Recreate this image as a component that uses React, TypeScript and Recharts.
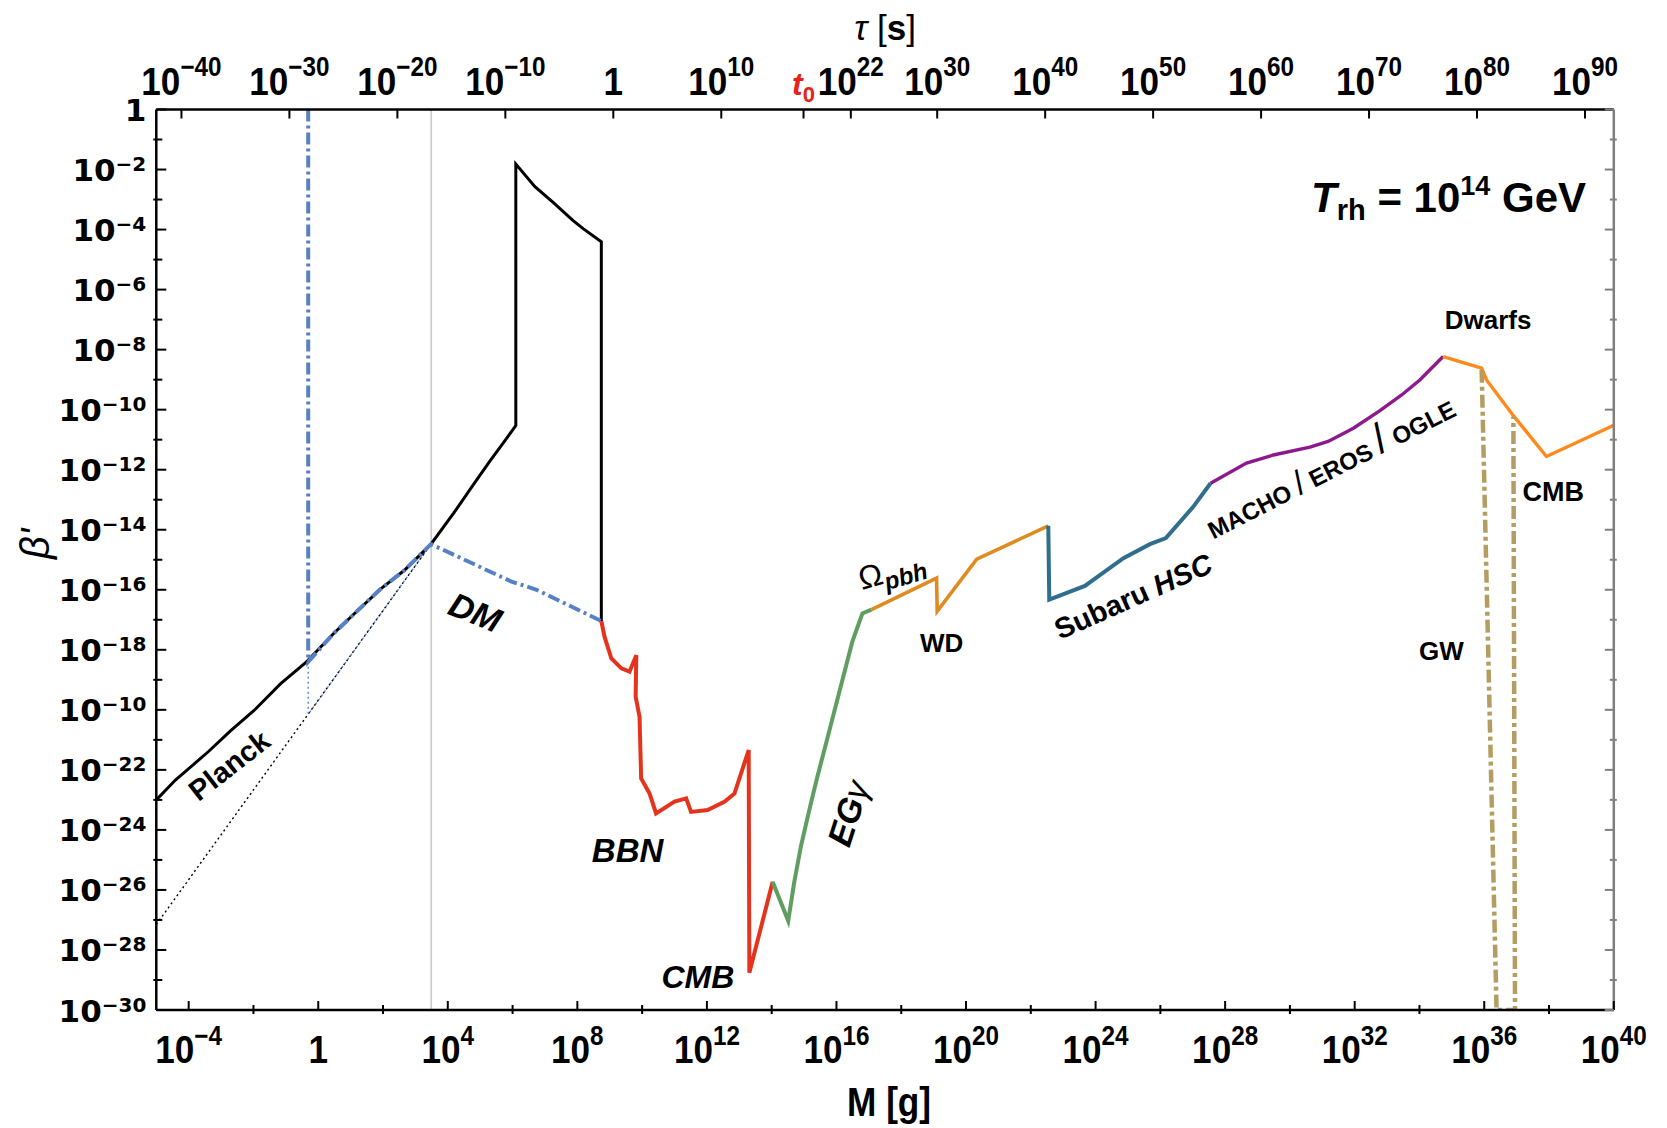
import React from 'react';
import { LineChart, Line, XAxis, YAxis, ReferenceLine, ReferenceDot, Label } from 'recharts';

type Pt = [number, number];

// x = log10(M / g), y = log10(beta')
const blackBoundary: Pt[] = [
  [-5.0, -23.0], [-4.41, -22.34], [-3.74, -21.72], [-3.38, -21.38], [-2.71, -20.7], [-1.99, -20.03],
  [-1.16, -19.13], [-0.39, -18.43], [0.49, -17.44], [1.21, -16.7], [1.93, -15.97], [2.66, -15.35],
  [3.48, -14.48], [4.18, -13.45], [4.79, -12.5], [5.31, -11.7], [5.72, -11.1], [6.1, -10.53],
  [6.1, -1.82], [6.69, -2.57], [7.26, -3.1], [7.87, -3.7], [8.18, -3.97], [8.74, -4.41], [8.74, -17.04],
];
const blueDashDot: Pt[] = [
  [-0.31, 0], [-0.31, -18.4], [0.49, -17.44], [1.21, -16.7], [1.93, -15.97], [2.66, -15.35],
  [3.48, -14.48], [5.95, -15.72], [6.74, -16.0], [8.74, -17.04],
];
const blueThinDotted: Pt[] = [[-0.31, -18.4], [-0.31, -20.15], [3.48, -14.48]];
const blackThinDotted: Pt[] = [[-5.0, -27.15], [3.48, -14.48]];
const redBbnCmb: Pt[] = [
  [8.74, -17.04], [8.84, -17.57], [9.05, -18.29], [9.36, -18.62], [9.61, -18.73], [9.82, -18.18],
  [9.8, -19.57], [9.92, -20.23], [9.97, -22.29], [10.23, -22.79], [10.43, -23.45], [11.0, -23.06],
  [11.36, -22.95], [11.51, -23.4], [12.02, -23.34], [12.54, -23.06], [12.85, -22.79], [13.29, -21.34],
  [13.31, -28.76], [14.03, -25.73],
];
const greenEg: Pt[] = [
  [14.03, -25.73], [14.51, -27.03], [14.69, -25.78], [14.9, -24.56], [15.16, -23.34], [15.41, -22.23],
  [15.72, -20.95], [16.13, -19.23], [16.49, -17.73], [16.8, -16.79], [17.08, -16.66],
];
const orangeOmegaWd: Pt[] = [
  [17.08, -16.66], [19.09, -15.61], [19.11, -16.72], [20.33, -14.98], [22.54, -13.87],
];
const tealSubaru: Pt[] = [
  [22.54, -13.87], [22.57, -16.33], [23.67, -15.87], [24.86, -14.95], [25.68, -14.48], [26.17, -14.28],
  [27.02, -13.23], [27.55, -12.45],
];
const purpleMicrolensing: Pt[] = [
  [27.55, -12.45], [28.66, -11.78], [29.49, -11.51], [30.62, -11.25], [31.18, -11.06], [31.96, -10.62],
  [32.78, -10.03], [33.45, -9.51], [34.01, -9.01], [34.73, -8.23],
];
const orangeDwarfsCmb: Pt[] = [
  [34.73, -8.23], [35.92, -8.62], [36.07, -9.01], [36.9, -10.2], [37.92, -11.56], [40.0, -10.52],
];
const gwBand: Pt[] = [[35.92, -8.67], [36.38, -30], [36.95, -30], [36.9, -10.23]];

const grayLineMass = 3.49;

const massTicks = [-4, -2, 0, 2, 4, 6, 8, 10, 12, 14, 16, 18, 20, 22, 24, 26, 28, 30, 32, 34, 36, 38, 40];
const betaTicks = [-30, -29, -28, -27, -26, -25, -24, -23, -22, -21, -20, -19, -18, -17, -16, -15, -14,
  -13, -12, -11, -10, -9, -8, -7, -6, -5, -4, -3, -2, -1, 0];
const betaTickText: Record<number, string> = {
  0: '1', [-2]: '−2', [-4]: '−4', [-6]: '−6', [-8]: '−8', [-10]: '−10', [-12]: '−12', [-14]: '−14',
  [-16]: '−16', [-18]: '−18', [-20]: '−10', [-22]: '−22', [-24]: '−24', [-26]: '−26', [-28]: '−28', [-30]: '−30',
};
const T0 = 17.62;
const tauTicks = [-40, -30, -20, -10, 0, 10, T0, 22, 30, 40, 50, 60, 70, 80, 90];
// log10(tau/s) range matching the mass range (tau ∝ M^3)
const tauDomain: [number, number] = [-42.33, 92.67];
const tauAxisSpan: Pt[] = [[-42.33, -30], [92.67, -30]];

type Part = { t: string; i?: boolean; w?: number; s?: number; dy?: number };
type Annot = { x: number; y: number; rot: number; size: number; parts: Part[] };
const annotations: Annot[] = [
  { x: -2.75, y: -21.85, rot: -38, size: 29, parts: [{ t: 'Planck' }] },
  { x: 4.85, y: -16.75, rot: 22, size: 34, parts: [{ t: 'DM', i: true }] },
  { x: 9.55, y: -24.68, rot: 0, size: 33, parts: [{ t: 'BBN', i: true }] },
  { x: 11.72, y: -28.89, rot: 0, size: 32, parts: [{ t: 'CMB', i: true }] },
  { x: 16.36, y: -23.45, rot: -72, size: 34, parts: [{ t: 'EG', i: true }, { t: 'γ', i: true, w: 400 }] },
  { x: 17.7, y: -15.34, rot: -16, size: 32, parts: [{ t: 'Ω', w: 400 }, { t: 'pbh', i: true, s: 24, dy: 7 }] },
  { x: 19.25, y: -17.78, rot: 0, size: 26, parts: [{ t: 'WD' }] },
  { x: 25.16, y: -16.22, rot: -24, size: 29, parts: [{ t: 'Subaru ' }, { t: 'HSC', i: true }] },
  {
    x: 31.29, y: -12.0, rot: -27, size: 24,
    parts: [{ t: 'MACHO ' }, { t: '/', w: 300, s: 34 }, { t: ' EROS ' }, { t: '/', w: 300, s: 42 }, { t: ' OGLE' }],
  },
  { x: 36.12, y: -7.01, rot: 0, size: 26, parts: [{ t: 'Dwarfs' }] },
  { x: 38.13, y: -12.73, rot: 0, size: 27, parts: [{ t: 'CMB' }] },
  { x: 34.68, y: -18.05, rot: 0, size: 26, parts: [{ t: 'GW' }] },
  {
    x: 34.9, y: -2.93, rot: 0, size: 42,
    parts: [{ t: 'T', i: true }, { t: 'rh', s: 29, dy: 8 }, { t: ' = 10', dy: -8 }, { t: '14', s: 27, dy: -17 }, { t: ' GeV', dy: 17 }],
  },
];

const SANS = '"Liberation Sans", Arial, Helvetica, sans-serif';
const WIDE = '"DejaVu Sans", Verdana, sans-serif';

const toData = (pts: Pt[]) => pts.map(([x, y]) => ({ x, y }));

const series = [
  { key: 'blackDot', pts: blackThinDotted, color: '#000000', width: 1.4, dash: '2 3' },
  { key: 'blueDot', pts: blueThinDotted, color: '#5880c4', width: 1.4, dash: '2 3' },
  { key: 'black', pts: blackBoundary, color: '#000000', width: 3, dash: undefined },
  { key: 'blue', pts: blueDashDot, color: '#5880c4', width: 4, dash: '12 4 3 4' },
  { key: 'red', pts: redBbnCmb, color: '#e5341d', width: 4, dash: undefined },
  { key: 'green', pts: greenEg, color: '#5f9e60', width: 4, dash: undefined },
  { key: 'orangeA', pts: orangeOmegaWd, color: '#e08b1f', width: 3.6, dash: undefined },
  { key: 'teal', pts: tealSubaru, color: '#2f6e8c', width: 4, dash: undefined },
  { key: 'purple', pts: purpleMicrolensing, color: '#8c1a8c', width: 3.4, dash: undefined },
  { key: 'orangeB', pts: orangeDwarfsCmb, color: '#ff8a1c', width: 3.4, dash: undefined },
  { key: 'gw', pts: gwBand, color: '#b39d62', width: 4.5, dash: '13 4 4 4' },
];

const supText = (v: number) => (v < 0 ? '−' + -v : String(v));

const PowText = ({ x, y, exp, size, supSize, supDy, sx }: any) => (
  <text
    transform={`translate(${x} ${y}) scale(${sx} 1)`}
    textAnchor="middle"
    fontFamily={SANS}
    fontWeight={700}
    fontSize={size}
    fill="#000"
  >
    {exp === 0 ? '1' : (
      <>
        <tspan>10</tspan>
        <tspan fontSize={supSize} dy={supDy}>{supText(exp)}</tspan>
      </>
    )}
  </text>
);

const BottomTick = (props: any) => {
  const { x, y, payload } = props;
  const v = payload.value as number;
  const major = v % 4 === 0;
  return (
    <g>
      {major ? (
        <line x1={x} x2={x} y1={y} y2={y - 9} stroke="#000" strokeWidth={2} />
      ) : (
        <line x1={x} x2={x} y1={y + 4} y2={y - 5} stroke="#000" strokeWidth={2} />
      )}
      {major && <PowText x={x} y={y + 53} exp={v} size={39} supSize={27} supDy={-18} sx={0.9} />}
    </g>
  );
};

const TopTick = (props: any) => {
  const { x, y, payload } = props;
  const v = payload.value as number;
  return (
    <g>
      <line x1={x} x2={x} y1={y} y2={y + 9} stroke="#000" strokeWidth={2} />
      {v === T0 ? (
        <text x={x} y={y - 15} textAnchor="middle" fontFamily={SANS} fontWeight={700} fontSize={32} fill="#e8201a">
          <tspan fontStyle="italic">t</tspan>
          <tspan fontSize={22} dy={7}>0</tspan>
        </text>
      ) : (
        <PowText x={x} y={y - 15} exp={v} size={39} supSize={27} supDy={-19} sx={0.9} />
      )}
    </g>
  );
};

const LeftTick = (props: any) => {
  const { x, y, payload } = props;
  const v = payload.value as number;
  const major = v % 2 === 0;
  const sup = betaTickText[v];
  return (
    <g>
      {major ? (
        <line x1={x} x2={x + 10} y1={y} y2={y} stroke="#000" strokeWidth={2} />
      ) : (
        <line x1={x - 3} x2={x + 6} y1={y} y2={y} stroke="#000" strokeWidth={2} />
      )}
      {major && (
        <text x={x - 10} y={y + 11.5} textAnchor="end" fontFamily={WIDE} fontWeight={700} fontSize={31} fill="#000">
          {v === 0 ? '1' : (
            <>
              <tspan>10</tspan>
              <tspan fontSize={20} dy={-10}>{sup}</tspan>
            </>
          )}
        </text>
      )}
    </g>
  );
};

const RightTick = (props: any) => {
  const { x, y, payload } = props;
  const v = payload.value as number;
  const major = v % 2 === 0;
  return major ? (
    <line x1={x} x2={x - 9} y1={y} y2={y} stroke="#808080" strokeWidth={2} />
  ) : (
    <line x1={x + 3} x2={x - 4} y1={y} y2={y} stroke="#808080" strokeWidth={2} />
  );
};

const AnnotText = ({ cx, cy, a }: { cx: number; cy: number; a: Annot }) => (
  <text
    x={cx}
    y={cy + a.size * 0.35}
    textAnchor="middle"
    transform={a.rot ? `rotate(${a.rot} ${cx} ${cy})` : undefined}
    fontFamily={SANS}
    fontWeight={700}
    fontSize={a.size}
    fill="#000"
  >
    {a.parts.map((p, i) => (
      <tspan key={i} fontStyle={p.i ? 'italic' : 'normal'} fontWeight={p.w ?? 700} fontSize={p.s ?? a.size} dy={p.dy}>
        {p.t}
      </tspan>
    ))}
  </text>
);

const W = 1651;
const H = 1120;

export default function App() {
  return (
    <div style={{ width: W, height: H, background: '#fff' }}>
      <LineChart width={W} height={H} margin={{ top: 100.5, right: 44.2, bottom: 117, left: 147.3 }}>
        <XAxis
          xAxisId="bottom"
          dataKey="x"
          type="number"
          orientation="bottom"
          domain={[-5, 40]}
          allowDataOverflow
          ticks={massTicks}
          interval={0}
          height={1}
          tickSize={0}
          tickMargin={0}
          tickLine={false}
          axisLine={{ stroke: '#000', strokeWidth: 2.5 }}
          tick={(p: any) => <BottomTick {...p} />}
        >
          <Label
            content={(p: any) => {
              const vb = p.viewBox || { x: 148.3, y: 1002, width: 1457.5 };
              const cx = vb.x + vb.width / 2 + 4;
              return (
                <text transform={`translate(${cx} 1108) scale(0.88 1)`} textAnchor="middle" fontFamily={SANS} fontWeight={700} fontSize={40} fill="#000">
                  M [g]
                </text>
              );
            }}
          />
        </XAxis>
        <XAxis
          xAxisId="top"
          dataKey="x"
          type="number"
          orientation="top"
          domain={tauDomain}
          allowDataOverflow
          ticks={tauTicks}
          interval={0}
          height={1}
          tickSize={0}
          tickMargin={0}
          tickLine={false}
          axisLine={{ stroke: '#000', strokeWidth: 2.5 }}
          tick={(p: any) => <TopTick {...p} />}
        >
          <Label
            content={(p: any) => {
              const vb = p.viewBox || { x: 148.3, y: 101.5, width: 1457.5, height: 0 };
              const cx = vb.x + vb.width / 2;
              return (
                <text x={cx} y={32} textAnchor="middle" fontFamily={SANS} fontSize={35} fill="#000">
                  <tspan fontStyle="italic">τ</tspan>
                  <tspan> [</tspan>
                  <tspan fontWeight={700}>s</tspan>
                  <tspan>]</tspan>
                </text>
              );
            }}
          />
        </XAxis>
        <YAxis
          yAxisId="left"
          type="number"
          domain={[-30, 0]}
          allowDataOverflow
          ticks={betaTicks}
          interval={0}
          width={1}
          tickSize={0}
          tickMargin={0}
          tickLine={false}
          axisLine={{ stroke: '#000', strokeWidth: 2.5 }}
          tick={(p: any) => <LeftTick {...p} />}
        >
          <Label
            content={(p: any) => {
              const vb = p.viewBox || { x: 147.3, y: 101.5, width: 1, height: 900.5 };
              const cx = 29;
              const cy = vb.y + vb.height / 2 - 16;
              return (
                <text x={cx} y={cy + 12} transform={`rotate(-90 ${cx} ${cy})`} textAnchor="middle" fontFamily={SANS} fontStyle="italic" fontSize={40} fill="#000">
                  β'
                </text>
              );
            }}
          />
        </YAxis>
        <YAxis
          yAxisId="right"
          orientation="right"
          type="number"
          domain={[-30, 0]}
          allowDataOverflow
          ticks={betaTicks}
          interval={0}
          width={1}
          tickSize={0}
          tickMargin={0}
          tickLine={false}
          axisLine={{ stroke: '#808080', strokeWidth: 2.5 }}
          tick={(p: any) => <RightTick {...p} />}
        />
        <ReferenceLine xAxisId="bottom" yAxisId="left" x={grayLineMass} stroke="#c8c8c8" strokeWidth={1.6} />
        <Line
          xAxisId="top"
          yAxisId="right"
          data={toData(tauAxisSpan)}
          dataKey="y"
          stroke="none"
          strokeWidth={0}
          dot={false}
          activeDot={false}
          isAnimationActive={false}
        />
        {series.map((s) => (
          <Line
            key={s.key}
            xAxisId="bottom"
            yAxisId="left"
            data={toData(s.pts)}
            dataKey="y"
            type="linear"
            stroke={s.color}
            strokeWidth={s.width}
            strokeDasharray={s.dash}
            dot={false}
            activeDot={false}
            isAnimationActive={false}
          />
        ))}
        {annotations.map((a, i) => (
          <ReferenceDot
            key={i}
            xAxisId="bottom"
            yAxisId="left"
            x={a.x}
            y={a.y}
            r={0}
            ifOverflow="visible"
            shape={(p: any) => <AnnotText cx={p.cx} cy={p.cy} a={a} />}
          />
        ))}
      </LineChart>
    </div>
  );
}
